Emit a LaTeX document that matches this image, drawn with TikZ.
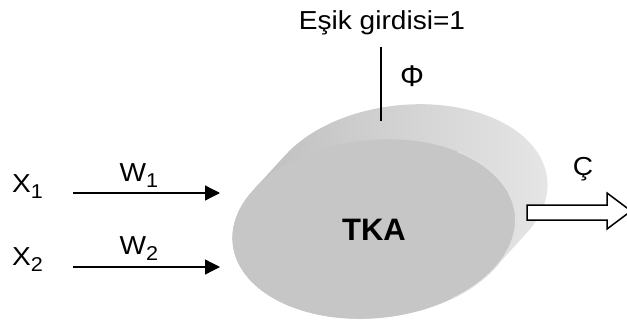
\documentclass[tikz,border=0pt]{standalone}
\usepackage{fontspec}
\setmainfont{Liberation Sans}
\newfontfamily\lblfont{Liberation Sans}[FakeStretch=1.08]
\usetikzlibrary{arrows.meta,calc}
\definecolor{frontgray}{RGB}{198,198,198}
\definecolor{sideL}{RGB}{186,186,186}
\definecolor{sideM}{RGB}{140,140,140}
\definecolor{sideR}{RGB}{232,232,232}
\definecolor{rimcol}{RGB}{226,226,226}
\newcommand\subidx[1]{\raisebox{-6pt}{\fontsize{20}{20}\selectfont #1}}
\begin{document}
\begin{tikzpicture}[x=1pt,y=1pt,
  lbl/.style={inner sep=0pt, font=\lblfont\fontsize{26}{30}\selectfont},
  wire/.style={line width=1.3pt, -{Triangle[length=15pt,width=15pt]}},
  blockarrow/.style={line width=1.5pt, draw=black, fill=white, line join=miter},
]
\useasboundingbox (0,0) rectangle (627,322);
% cylinder body
\begin{scope}[shift={(374,93)}, rotate=6]
  \shade[left color=sideL, middle color=sideM, right color=sideR]
    (-116.0,51.3) -- (-80.5,82.8)
    arc[start angle=144.8, end angle=-35.2, x radius=142, y radius=89]
    -- (116.0,-51.3)
    arc[start angle=-35.2, end angle=-215.2, x radius=142, y radius=89] -- cycle;
  \fill[frontgray] (0,0) ellipse [x radius=142, y radius=89];
  \draw[rimcol, line width=1pt] (71,-77.1) arc[start angle=-60, end angle=50, x radius=142, y radius=89];
\end{scope}
\node[inner sep=0pt, anchor=base, font=\bfseries\fontsize{31}{34}\selectfont] (tka) at (374,82) {TKA};
% threshold input
\node[lbl, anchor=base] (esik) at (382,292) {Eşik girdisi=1};
\coordinate (phitop) at (381,275);
\coordinate (phibot) at (381,201);
\draw[line width=1.2pt] (phitop) -- (phibot);
\node[inner sep=0pt, anchor=base, font=\fontsize{30}{32}\selectfont] (phi) at (412,235) {Φ};
% inputs
\node[lbl, anchor=base west] (x1) at (12,130) {X\subidx{1}};
\node[lbl, anchor=base west] (x2) at (12,57) {X\subidx{2}};
\node[lbl, anchor=base] (w1) at (139,141) {W\subidx{1}};
\node[lbl, anchor=base] (w2) at (139,68) {W\subidx{2}};
\coordinate (s1) at (73,129); \coordinate (e1) at (220,129);
\coordinate (s2) at (73,55);  \coordinate (e2) at (220,55);
\draw[wire] (s1) -- (e1);
\draw[wire] (s2) -- (e2);
% output
\coordinate (o) at (527,102);
\draw[blockarrow] (o) -- ++(0,15) -- ++(80,0) -- ++(0,12) -- ++(24,-18) -- ++(-24,-18) -- ++(0,9) -- cycle;
\node[lbl, anchor=base] (cout) at (583,147) {Ç};
\end{tikzpicture}
\end{document}
